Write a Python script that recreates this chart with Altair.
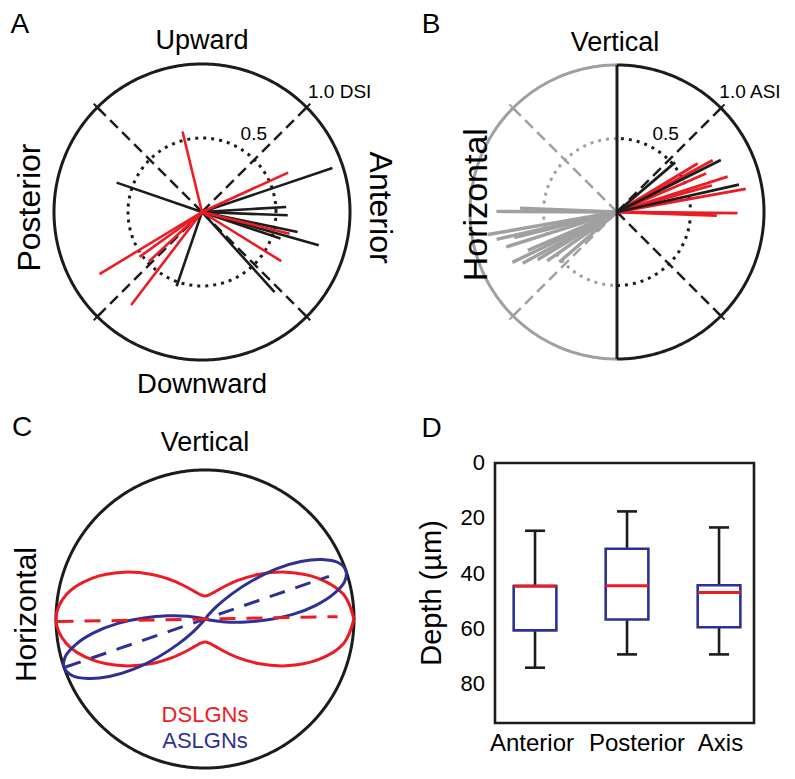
import numpy as np
import pandas as pd
import altair as alt

FONT = "Liberation Sans"
BLACK = "#1c1c1c"
RED = "#ec1c24"
BLUE = "#2e3192"
GRAY = "#a0a0a0"

# ---------------- data ----------------
# Panel A: preferred direction (deg) and DSI of each cell
a_black_angle = [18.6, 161.0, 3.4, -2.2, -11.8, -15.9, -18.7, -47.8, -108.9]
a_black_dsi = [0.93, 0.61, 0.57, 0.58, 0.66, 0.82, 0.56, 0.73, 0.53]
a_red_angle = [103.6, 24.6, -14.0, -31.8, 211.2, 215.7, 223.0, 232.7]
a_red_dsi = [0.56, 0.64, 0.61, 0.63, 0.81, 0.52, 0.49, 0.79]

# Panel B: preferred axis (deg) and ASI of each cell
b_red_angle = [31.0, 28.4, 23.4, 17.7, 15.7, 10.2, -0.5, -2.1]
b_red_asi = [0.64, 0.74, 0.66, 0.79, 0.67, 0.89, 0.82, 0.68]
b_black_angle = [40.5, 26.6, 12.7]
b_black_asi = [0.52, 0.79, 0.85]
b_gray_angle = [179.7, 177.7, 189.9, 192.8, 197.5, 194.0, 203.3, 205.7, 208.5, 211.0, 215.0, 221.0]
b_gray_asi = [0.82, 0.66, 0.89, 0.84, 0.79, 0.72, 0.66, 0.79, 0.73, 0.63, 0.58, 0.52]

# Panel C: population tuning radius vs angle from the preferred axis
c_ds_angle = [0, 10, 20, 30, 40, 50, 60, 70, 80, 90]
c_ds_r = [1.0, 0.945, 0.804, 0.628, 0.464, 0.336, 0.248, 0.194, 0.165, 0.155]
c_ds_axis = 0.0
c_ds_dash_axis = 1.0
c_ds_dash = [-0.99, 0.89]
c_as_angle = [0, 4, 8, 12, 16, 20, 24, 28, 32, 36]
c_as_r = [1.0, 0.97, 0.88, 0.75, 0.59, 0.41, 0.25, 0.12, 0.03, 0.0]
c_as_axis = 19.0
c_as_dash = [-0.99, 0.88]

# Panel D: depth box plots
d_groups = ["Anterior", "Posterior", "Axis"]
d_low = [24.5, 17.5, 23.3]
d_q1 = [44.5, 31.0, 44.2]
d_med = [44.5, 44.4, 46.8]
d_q3 = [60.5, 56.6, 59.4]
d_high = [74.0, 69.2, 69.2]
d_ticks = [0, 20, 40, 60, 80]
d_xdom = [0.565, 3.38]
d_ydom = [0, 94]
d_label_pos = [0.967, 2.108, 3.016]


# ---------------- helpers ----------------
def pscales(cx, cy, s, L=1.7):
    ox, oy = cx - 8, cy - 8
    xs = alt.Scale(domain=[-L, L], range=[ox - L * s, ox + L * s], nice=False, zero=False)
    ys = alt.Scale(domain=[-L, L], range=[oy + L * s, oy - L * s], nice=False, zero=False)
    return xs, ys


def spokes_df(angles, mags, r0=0.0):
    a = np.radians(np.asarray(angles, float))
    m = np.asarray(mags, float)
    return pd.DataFrame({"x": r0 * np.cos(a), "y": r0 * np.sin(a),
                         "x2": m * np.cos(a), "y2": m * np.sin(a)})


def rule_layer(df, xs, ys, **mk):
    return alt.Chart(df).mark_rule(**mk).encode(
        x=alt.X("x:Q", scale=xs, axis=None),
        y=alt.Y("y:Q", scale=ys, axis=None),
        x2="x2:Q", y2="y2:Q")


def ring_df(r, a0, a1, step=1.0):
    a = np.radians(np.arange(a0, a1 + step / 2, step))
    return pd.DataFrame({"o": np.arange(len(a)), "x": r * np.cos(a), "y": r * np.sin(a)})


def polar_df(angles_deg, radii, rot):
    a = np.radians(np.asarray(angles_deg, float) + rot)
    r = np.asarray(radii, float)
    return pd.DataFrame({"o": np.arange(len(a)), "x": r * np.cos(a), "y": r * np.sin(a)})


def path_layer(df, xs, ys, **mk):
    return alt.Chart(df).mark_line(**mk).encode(
        x=alt.X("x:Q", scale=xs, axis=None),
        y=alt.Y("y:Q", scale=ys, axis=None),
        order="o:Q")


def text_layer(rows, xs, ys, align="center", baseline="middle", dx=0, dy=0):
    df = pd.DataFrame(rows, columns=["t", "x", "y", "s", "ang", "c"])
    return alt.Chart(df).mark_text(font=FONT, align=align, baseline=baseline, dx=dx, dy=dy).encode(
        x=alt.X("x:Q", scale=xs, axis=None),
        y=alt.Y("y:Q", scale=ys, axis=None),
        text="t:N",
        size=alt.Size("s:Q", scale=None),
        angle=alt.Angle("ang:Q", scale=None),
        color=alt.Color("c:N", scale=None))


# ---------------- Panel A ----------------
xa, ya = pscales(202, 212, 148)
panelA = alt.layer(
    path_layer(ring_df(1.0, 0, 360), xa, ya, color=BLACK, strokeWidth=3),
    path_layer(ring_df(0.5, 0, 360), xa, ya, color=BLACK, strokeWidth=3, strokeDash=[3, 5]),
    rule_layer(spokes_df([45, 135, 225, 315], [1, 1, 1, 1]), xa, ya,
               color=BLACK, strokeWidth=2.5, strokeDash=[11, 6]),
    rule_layer(spokes_df([45, 135, 225, 315], [1.035] * 4, r0=0.965), xa, ya,
               color=BLACK, strokeWidth=2),
    rule_layer(spokes_df(a_black_angle, a_black_dsi), xa, ya, color=BLACK, strokeWidth=2.6),
    rule_layer(spokes_df(a_red_angle, a_red_dsi), xa, ya, color=RED, strokeWidth=2.6),
    text_layer([
        ("A", -1.23, 1.265, 28, 0, "black"),
        ("Upward", 0.0, 1.155, 27, 0, "black"),
        ("Downward", 0.0, -1.17, 27.5, 0, "black"),
        ("Posterior", -1.165, 0.03, 32, 270, "black"),
        ("Anterior", 1.2, 0.03, 32, 90, "black"),
        ("0.5", 0.35, 0.53, 19, 0, "black"),
    ], xa, ya),
    text_layer([("1.0 DSI", 0.716, 0.814, 19, 0, "black")], xa, ya, align="left"),
)

# ---------------- Panel B ----------------
xb, yb = pscales(617, 212, 147)
panelB = alt.layer(
    path_layer(ring_df(1.0, 90, 270), xb, yb, color=GRAY, strokeWidth=3),
    path_layer(ring_df(1.0, -90, 90), xb, yb, color=BLACK, strokeWidth=3),
    path_layer(ring_df(0.5, 90, 270), xb, yb, color=GRAY, strokeWidth=3, strokeDash=[3, 5]),
    path_layer(ring_df(0.5, -90, 90), xb, yb, color=BLACK, strokeWidth=3, strokeDash=[3, 5]),
    rule_layer(spokes_df([135, 225], [1, 1]), xb, yb, color=GRAY, strokeWidth=2.5, strokeDash=[11, 6]),
    rule_layer(spokes_df([45, 315], [1, 1]), xb, yb, color=BLACK, strokeWidth=2.5, strokeDash=[11, 6]),
    rule_layer(spokes_df([135, 225], [1.035] * 2, r0=0.965), xb, yb, color=GRAY, strokeWidth=2),
    rule_layer(spokes_df([45, 315], [1.035] * 2, r0=0.965), xb, yb, color=BLACK, strokeWidth=2),
    rule_layer(spokes_df(b_gray_angle, b_gray_asi), xb, yb, color=GRAY, strokeWidth=3.4),
    rule_layer(spokes_df(b_red_angle, b_red_asi), xb, yb, color=RED, strokeWidth=2.8),
    rule_layer(spokes_df(b_black_angle, b_black_asi), xb, yb, color=BLACK, strokeWidth=2.8),
    rule_layer(spokes_df([90], [1], r0=-1.0), xb, yb, color=BLACK, strokeWidth=3),
    text_layer([
        ("B", -1.265, 1.27, 28, 0, "black"),
        ("Vertical", -0.014, 1.152, 27, 0, "black"),
        ("Horizontal", -0.955, 0.05, 34, 270, "black"),
        ("0.5", 0.331, 0.534, 19, 0, "black"),
    ], xb, yb),
    text_layer([("1.0 ASI", 0.696, 0.814, 19, 0, "black")], xb, yb, align="left"),
)

# ---------------- Panel C ----------------
xc, yc = pscales(205, 619, 149)
ds_lookup = dict(zip(c_ds_angle, c_ds_r))
ds_full_ang = list(range(0, 361, 10))
ds_full_r = []
for t in ds_full_ang:
    f = t % 180
    if f > 90:
        f = 180 - f
    ds_full_r.append(ds_lookup[f])

as_half = [-a for a in c_as_angle[::-1]] + c_as_angle[1:]
as_half_r = c_as_r[::-1] + c_as_r[1:]
as_ang = as_half + [a + 180 for a in as_half[1:-1]] + [as_half[0]]
as_r = as_half_r + as_half_r[1:-1] + [as_half_r[0]]

panelC = alt.layer(
    path_layer(ring_df(1.0, 0, 360), xc, yc, color=BLACK, strokeWidth=3),
    path_layer(polar_df(ds_full_ang, ds_full_r, c_ds_axis), xc, yc,
               color=RED, strokeWidth=3, interpolate="catmull-rom"),
    path_layer(polar_df(as_ang, as_r, c_as_axis), xc, yc,
               color=BLUE, strokeWidth=3, interpolate="catmull-rom"),
    rule_layer(spokes_df([c_as_axis], [c_as_dash[1]], r0=c_as_dash[0]), xc, yc,
               color=BLUE, strokeWidth=3, strokeDash=[16, 11]),
    rule_layer(spokes_df([c_ds_dash_axis], [c_ds_dash[1]], r0=c_ds_dash[0]), xc, yc,
               color=RED, strokeWidth=3, strokeDash=[16, 11]),
    text_layer([
        ("C", -1.228, 1.28, 28, 0, "black"),
        ("Vertical", 0.0, 1.18, 27, 0, "black"),
        ("Horizontal", -1.195, 0.03, 30, 270, "black"),
        ("DSLGNs", 0.0, -0.644, 22, 0, RED),
        ("ASLGNs", 0.0, -0.819, 22, 0, BLUE),
    ], xc, yc),
)

# ---------------- Panel D ----------------
xd = alt.Scale(domain=d_xdom, range=[487, 746], nice=False, zero=False)
yd = alt.Scale(domain=d_ydom, range=[455, 715], nice=False, zero=False)

box = pd.DataFrame({"g": d_groups, "p": np.arange(1, len(d_groups) + 1),
                    "lo": d_low, "q1": d_q1, "med": d_med, "q3": d_q3, "hi": d_high})
box["bl"] = box.p - 0.232
box["br"] = box.p + 0.232
box["cl"] = box.p - 0.109
box["cr"] = box.p + 0.109

frame = pd.DataFrame({"x": [d_xdom[0]], "x2": [d_xdom[1]], "y": [d_ydom[0]], "y2": [d_ydom[1]]})

tick_rows = [(str(v), d_xdom[0], v, 22, 0, "black") for v in d_ticks]
cat_rows = [(g, d_label_pos[i], d_ydom[1], 24, 0, "black") for i, g in enumerate(d_groups)]

bx = alt.Chart(box)
panelD = alt.layer(
    alt.Chart(frame).mark_rect(fill="white", stroke=BLACK, strokeWidth=2.6).encode(
        x=alt.X("x:Q", scale=xd, axis=None), x2="x2:Q",
        y=alt.Y("y:Q", scale=yd, axis=None), y2="y2:Q"),
    bx.mark_rule(color=BLACK, strokeWidth=2.6).encode(
        x=alt.X("p:Q", scale=xd, axis=None), y=alt.Y("lo:Q", scale=yd, axis=None), y2="q1:Q"),
    bx.mark_rule(color=BLACK, strokeWidth=2.6).encode(
        x=alt.X("p:Q", scale=xd, axis=None), y=alt.Y("q3:Q", scale=yd, axis=None), y2="hi:Q"),
    bx.mark_rule(color=BLACK, strokeWidth=2.6).encode(
        x=alt.X("cl:Q", scale=xd, axis=None), x2="cr:Q", y=alt.Y("lo:Q", scale=yd, axis=None)),
    bx.mark_rule(color=BLACK, strokeWidth=2.6).encode(
        x=alt.X("cl:Q", scale=xd, axis=None), x2="cr:Q", y=alt.Y("hi:Q", scale=yd, axis=None)),
    bx.mark_rect(fill="white", stroke=BLUE, strokeWidth=2.6).encode(
        x=alt.X("bl:Q", scale=xd, axis=None), x2="br:Q",
        y=alt.Y("q1:Q", scale=yd, axis=None), y2="q3:Q"),
    bx.mark_rule(color=RED, strokeWidth=3).encode(
        x=alt.X("bl:Q", scale=xd, axis=None), x2="br:Q", y=alt.Y("med:Q", scale=yd, axis=None)),
    text_layer(tick_rows, xd, yd, align="right", dx=-10),
    text_layer(cat_rows, xd, yd, baseline="top", dy=9),
    text_layer([("Depth (µm)", -0.12, 47, 29, 270, "black"),
                ("D", -0.125, -12.3, 28, 0, "black")], xd, yd),
)

chart = alt.layer(panelA, panelB, panelC, panelD).resolve_scale(
    x="independent", y="independent"
).properties(
    width=779, height=763, padding=0, autosize=alt.AutoSizeParams(type="none")
).configure_view(strokeWidth=0)

chart.save("out.html", embed_options={"renderer": "svg", "actions": False})
